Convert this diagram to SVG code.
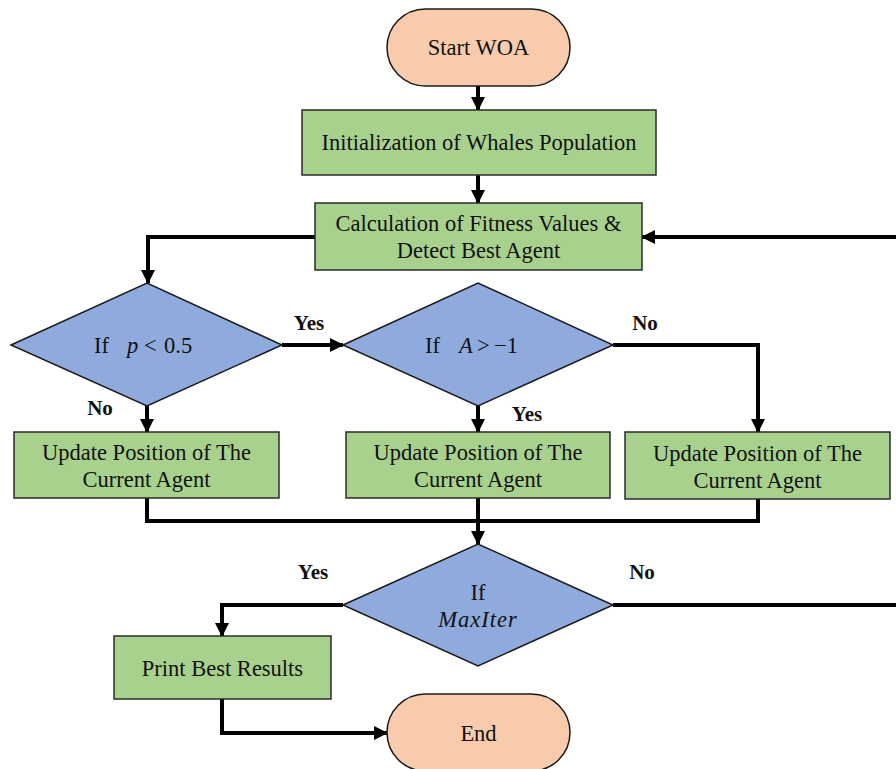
<svg xmlns="http://www.w3.org/2000/svg" width="896" height="769" viewBox="0 0 896 769">
  <defs>
    <marker id="arrow" markerUnits="userSpaceOnUse" markerWidth="14" markerHeight="14" refX="13" refY="7" orient="auto">
      <path d="M0,0 L14,7 L0,14 Z" fill="#000"/>
    </marker>
    <style>
      .proc { fill: #a9d18e; stroke: #2b2b2b; stroke-width: 1.5; }
      .dec { fill: #8faadc; stroke: #1a1a1a; stroke-width: 1.5; }
      .term { fill: #f8cbad; stroke: #1a1a1a; stroke-width: 1.5; }
      .txt { font-family: "Liberation Serif", "Times New Roman", serif; font-size: 22.5px; fill: #111; text-anchor: middle; }
      .mt { font-family: "Liberation Serif", "Times New Roman", serif; font-size: 22.5px; fill: #111; }
      .lbl { font-family: "Liberation Serif", "Times New Roman", serif; font-size: 21px; font-weight: bold; fill: #111; text-anchor: middle; }
      .math { font-style: italic; }
      .conn { fill: none; stroke: #000; stroke-width: 4; }
      .arr { marker-end: url(#arrow); }
    </style>
  </defs>
  <rect width="896" height="769" fill="#fff"/>

  <g id="connectors">
    <path class="conn arr" d="M478,86 V110"/>
    <path class="conn arr" d="M478,175 V203"/>
    <path class="conn arr" d="M315,237 H148 V283"/>
    <path class="conn arr" d="M282,345 H343"/>
    <path class="conn arr" d="M613,345 H758 V432"/>
    <path class="conn arr" d="M147,406 V432"/>
    <path class="conn arr" d="M478,406 V432"/>
    <path class="conn" d="M147,498 V521 H758 V499"/>
    <path class="conn arr" d="M478,498 V544"/>
    <path class="conn arr" d="M343,605 H222 V636"/>
    <path class="conn" d="M613,605 H900"/>
    <path class="conn arr" d="M900,237 H642"/>
    <path class="conn arr" d="M222,699 V733 H387"/>
  </g>

  <g id="start">
    <rect class="term" x="387" y="9" width="183" height="77" rx="38.5"/>
    <text class="txt" x="478.5" y="55">Start WOA</text>
  </g>

  <g id="init">
    <rect class="proc" x="302" y="110" width="354" height="65"/>
    <text class="txt" x="479" y="150">Initialization of Whales Population</text>
  </g>

  <g id="fitness">
    <rect class="proc" x="315" y="203" width="327" height="67"/>
    <text class="txt" x="478.5" y="231">Calculation of Fitness Values &amp;</text>
    <text class="txt" x="478.5" y="258">Detect Best Agent</text>
  </g>

  <g id="cond-p">
    <polygon class="dec" points="11,345 147,283 282,345 147,406"/>
    <text class="mt" y="353"><tspan x="94">If</tspan><tspan x="127" class="math">p</tspan><tspan x="144">&lt;</tspan><tspan x="164">0.5</tspan></text>
  </g>

  <g id="cond-a">
    <polygon class="dec" points="343,345 478,283 613,345 478,406"/>
    <text class="mt" y="353"><tspan x="425">If</tspan><tspan x="459" class="math">A</tspan><tspan x="477">&gt;</tspan><tspan x="494">−1</tspan></text>
  </g>

  <g id="update-1">
    <rect class="proc" x="14" y="432" width="265" height="66"/>
    <text class="txt" x="146.5" y="460">Update Position of The</text>
    <text class="txt" x="146.5" y="487">Current Agent</text>
  </g>

  <g id="update-2">
    <rect class="proc" x="346" y="432" width="264" height="66"/>
    <text class="txt" x="478" y="460">Update Position of The</text>
    <text class="txt" x="478" y="487">Current Agent</text>
  </g>

  <g id="update-3">
    <rect class="proc" x="625" y="432" width="265" height="67"/>
    <text class="txt" x="757.5" y="461">Update Position of The</text>
    <text class="txt" x="757.5" y="488">Current Agent</text>
  </g>

  <g id="cond-iter">
    <polygon class="dec" points="343,605 478,544 613,605 478,666"/>
    <text class="txt" x="478" y="600">If</text>
    <text class="txt math" x="478" y="627" letter-spacing="1">MaxIter</text>
  </g>

  <g id="print">
    <rect class="proc" x="114" y="636" width="217" height="63"/>
    <text class="txt" x="222.5" y="676">Print Best Results</text>
  </g>

  <g id="end">
    <rect class="term" x="387" y="694" width="183" height="77" rx="38.5"/>
    <text class="txt" x="478.5" y="741">End</text>
  </g>

  <g id="labels">
    <text class="lbl" x="309" y="330">Yes</text>
    <text class="lbl" x="100" y="415">No</text>
    <text class="lbl" x="527" y="421">Yes</text>
    <text class="lbl" x="645" y="330">No</text>
    <text class="lbl" x="313" y="579">Yes</text>
    <text class="lbl" x="642" y="579">No</text>
  </g>
</svg>
